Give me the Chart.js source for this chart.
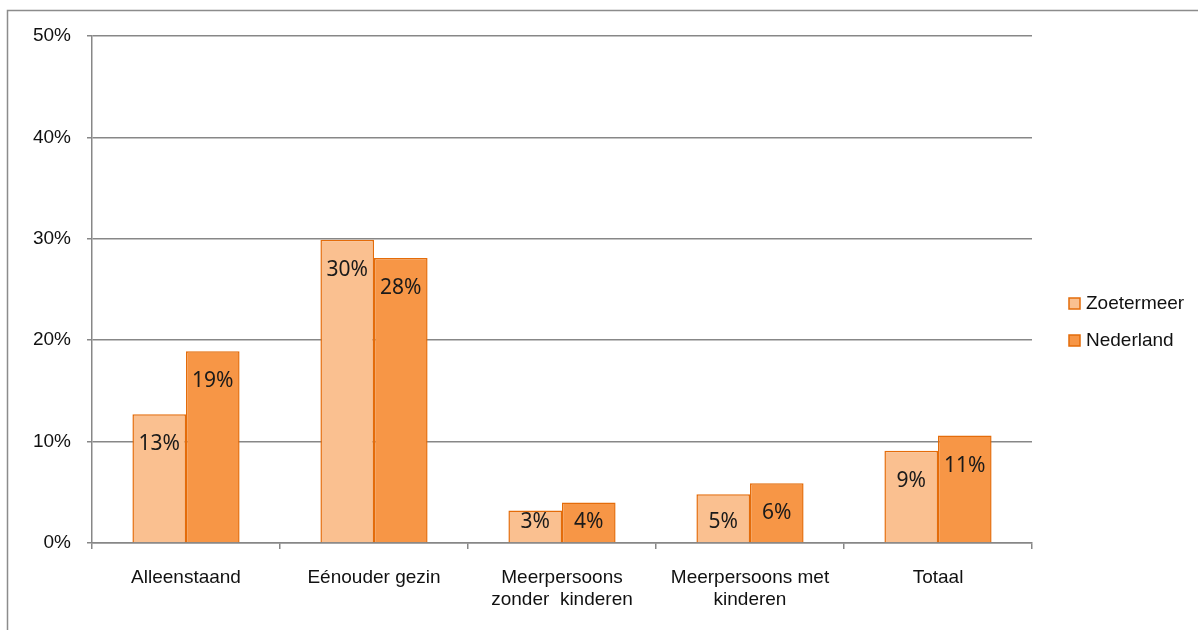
<!DOCTYPE html>
<html>
<head>
<meta charset="utf-8">
<script src="https://cdn.jsdelivr.net/npm/chart.js@4"></script>
<style>
  html, body { margin: 0; padding: 0; background: #fff; }
  #wrap { width: 1198px; height: 630px; }
</style>
</head>
<body>
<div id="wrap"><canvas id="chart" width="1198" height="630"></canvas></div>
<script>
// chart data
const categories = [
    ['Alleenstaand'],
    ['Eénouder gezin'],
    ['Meerpersoons', 'zonder  kinderen'],
    ['Meerpersoons met', 'kinderen'],
    ['Totaal']
];
const seriesNames = ['Zoetermeer', 'Nederland'];
const zoetermeer = [12.7, 29.9, 3.2, 4.8, 9.1];
const nederland = [18.9, 28.1, 4.0, 5.9, 10.6];
const yTicks = [0, 10, 20, 30, 40, 50];

const fills = ['#FAC090', '#F79646'];
const edge = '#E46C0A';
const axisGrey = '#878787';

// outer frame of the chart object (only top and left edges are visible)
const framePlugin = {
    id: 'frame',
    beforeDraw(chart) {
        const ctx = chart.ctx;
        ctx.save();
        ctx.strokeStyle = '#8c8c8c';
        ctx.lineWidth = 1.5;
        ctx.beginPath();
        ctx.moveTo(7.5, chart.height + 2);
        ctx.lineTo(7.5, 10.5);
        ctx.lineTo(chart.width + 2, 10.5);
        ctx.stroke();
        ctx.restore();
    }
};

// value labels inside the top of each bar
const valueLabels = {
    id: 'valueLabels',
    afterDatasetsDraw(chart) {
        const ctx = chart.ctx;
        ctx.save();
        ctx.font = '21px "Noto Sans", sans-serif';
        ctx.fillStyle = '#1a1a1a';
        ctx.textAlign = 'center';
        ctx.textBaseline = 'middle';
        chart.data.datasets.forEach((ds, i) => {
            chart.getDatasetMeta(i).data.forEach((bar, j) => {
                const y = Math.min(bar.y + 30, bar.base - 20);
                ctx.fillText(Math.round(ds.data[j]) + '%', bar.x, y);
            });
        });
        ctx.restore();
    }
};

// legend on the right
const sideLegend = {
    id: 'sideLegend',
    afterDraw(chart) {
        const ctx = chart.ctx;
        const x = chart.chartArea.right + 37;
        const yMid = (chart.chartArea.top + chart.chartArea.bottom) / 2 + 32;
        ctx.save();
        ctx.font = '19px "Liberation Sans", Arial, sans-serif';
        ctx.textBaseline = 'middle';
        ctx.textAlign = 'left';
        seriesNames.forEach((name, i) => {
            const y = yMid - 18.5 + i * 37;
            ctx.fillStyle = fills[i];
            ctx.fillRect(x, y - 5, 11, 11);
            ctx.strokeStyle = edge;
            ctx.lineWidth = 1.5;
            ctx.strokeRect(x, y - 5, 11, 11);
            ctx.fillStyle = '#111';
            ctx.fillText(name, x + 17, y + 1);
        });
        ctx.restore();
    }
};

new Chart(document.getElementById('chart'), {
    type: 'bar',
    data: {
        labels: categories,
        datasets: [
            {
                label: seriesNames[0],
                data: zoetermeer,
                backgroundColor: fills[0],
                borderColor: edge,
                borderWidth: 1.5,
                borderSkipped: 'bottom',
                categoryPercentage: 0.57,
                barPercentage: 1
            },
            {
                label: seriesNames[1],
                data: nederland,
                backgroundColor: fills[1],
                borderColor: edge,
                borderWidth: 1.5,
                borderSkipped: 'bottom',
                categoryPercentage: 0.57,
                barPercentage: 1
            }
        ]
    },
    options: {
        responsive: false,
        animation: false,
        layout: {
            padding: { top: 36, right: 166, bottom: 0, left: 0 }
        },
        plugins: {
            legend: { display: false },
            tooltip: { enabled: false }
        },
        scales: {
            x: {
                offset: true,
                grid: {
                    display: true,
                    drawOnChartArea: false,
                    offset: true,
                    tickLength: 6,
                    color: axisGrey,
                    lineWidth: 1.5
                },
                border: { color: axisGrey, width: 1.5 },
                ticks: {
                    color: '#111',
                    padding: 18,
                    maxRotation: 0,
                    autoSkip: false,
                    font: { family: '"Liberation Sans", Arial, sans-serif', size: 19, lineHeight: 1.16 }
                },
                afterFit(scale) { scale.height = 87; }
            },
            y: {
                min: 0,
                max: 50,
                afterBuildTicks(scale) {
                    scale.ticks = yTicks.map(v => ({ value: v }));
                },
                grid: {
                    color: axisGrey,
                    lineWidth: 1.5,
                    tickLength: 5
                },
                border: { color: axisGrey, width: 1.5 },
                ticks: {
                    color: '#111',
                    padding: 16,
                    callback: v => v + '%',
                    font: { family: '"Liberation Sans", Arial, sans-serif', size: 19 }
                },
                afterFit(scale) { scale.width = 92; }
            }
        }
    },
    plugins: [framePlugin, valueLabels, sideLegend]
});
</script>
</body>
</html>
